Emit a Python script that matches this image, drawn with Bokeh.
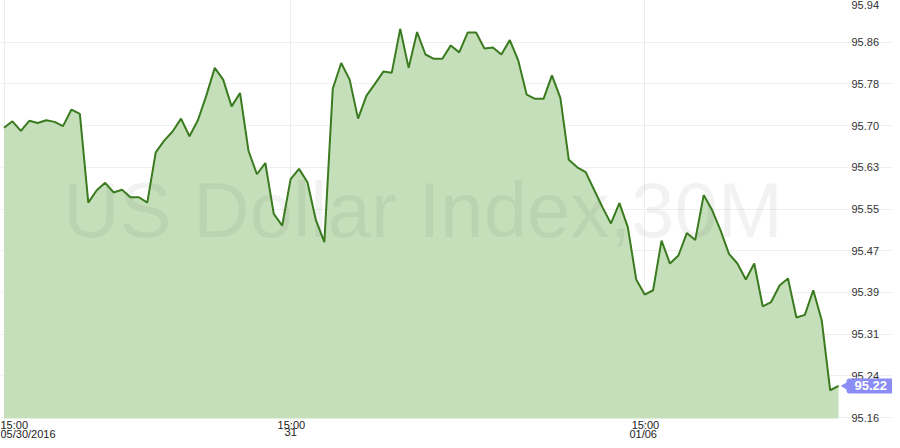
import math
from bokeh.plotting import figure
from bokeh.models import Range1d, FixedTicker, Label, Grid
from bokeh.core.properties import value
from bokeh.embed import file_html
from bokeh.resources import INLINE

# ---- data (30-minute closes) ----
closes = [
    95.700, 95.712, 95.694, 95.713, 95.709, 95.714, 95.711, 95.703, 95.734, 95.726,
    95.560, 95.583, 95.597, 95.579, 95.584, 95.570, 95.570, 95.560, 95.654, 95.676,
    95.693, 95.717, 95.684, 95.714, 95.760, 95.812, 95.790, 95.740, 95.765, 95.657,
    95.613, 95.634, 95.539, 95.517, 95.604, 95.623, 95.598, 95.527, 95.486, 95.773,
    95.821, 95.790, 95.717, 95.760, 95.782, 95.805, 95.803, 95.885, 95.812, 95.879,
    95.837, 95.829, 95.829, 95.854, 95.841, 95.878, 95.878, 95.848, 95.850, 95.837,
    95.864, 95.826, 95.762, 95.754, 95.754, 95.798, 95.756, 95.640, 95.626, 95.617,
    95.584, 95.551, 95.521, 95.559, 95.514, 95.416, 95.388, 95.396, 95.489, 95.446,
    95.461, 95.503, 95.490, 95.574, 95.546, 95.508, 95.464, 95.446, 95.416, 95.446,
    95.366, 95.374, 95.405, 95.418, 95.345, 95.350, 95.396, 95.340, 95.209, 95.217,
]
bar_index = list(range(len(closes)))

x_tick_index = [0, 34, 76]
x_tick_time = ["15:00", "15:00", "15:00"]
x_tick_date = ["05/30/2016", "31", "01/06"]

y_ticks = [95.158, 95.236, 95.314, 95.392, 95.470, 95.548,
           95.626, 95.704, 95.782, 95.860, 95.938]
y_tick_labels = ["95.16", "95.24", "95.31", "95.39", "95.47", "95.55",
                 "95.63", "95.70", "95.78", "95.86", "95.94"]

watermark = "US Dollar Index,30M"
last_price_label = "95.22"

# ---- layout: pixel <-> data mapping ----
W, H = 892, 440
PX_PER_BAR = 8.43
PX_PER_UNIT = 417 / 0.78
Y_TOP = y_ticks[-1]
X0 = -3.5 / PX_PER_BAR


def xd(px):
    return X0 + px / PX_PER_BAR


def yd(py):
    return Y_TOP - py / PX_PER_UNIT


plot_left, plot_right = xd(0), xd(845)
plot_bottom, plot_top = yd(418), Y_TOP
FONT = "Liberation Sans"
LABEL_BG = "#8b8cf4"

p = figure(width=W, height=H,
           x_range=Range1d(xd(0), xd(W)), y_range=Range1d(yd(H), Y_TOP),
           x_axis_location=None, y_axis_location=None,
           output_backend="svg", toolbar_location=None,
           min_border=0)
p.outline_line_color = None
p.background_fill_color = "white"
p.border_fill_color = "white"
p.grid.visible = False

p.add_layout(Grid(dimension=0, ticker=FixedTicker(ticks=x_tick_index),
                  bounds=(plot_bottom, plot_top), grid_line_color="#ececec"))
p.add_layout(Grid(dimension=1, ticker=FixedTicker(ticks=y_ticks),
                  bounds=(plot_left, plot_right), grid_line_color="#efefef"))

# area fill
p.varea(x=bar_index, y1=plot_bottom, y2=closes, fill_color="#c6dfbb", fill_alpha=1.0)

# watermark
p.text(x=[(plot_left + plot_right) / 2], y=[(plot_bottom + plot_top) / 2],
       text=[watermark], text_align="center", text_baseline="middle",
       text_font=value(FONT), text_font_size="78px",
       text_color="black", text_alpha=0.05)

# line
p.line(bar_index, closes, line_color="#3a7b1f", line_width=2)

# y tick labels (right side); the topmost one is kept inside the picture
p.text(x=[xd(851)] * (len(y_ticks) - 1), y=y_ticks[:-1], text=y_tick_labels[:-1],
       text_align="left", text_baseline="middle", text_font=value(FONT),
       text_font_size="11px", text_color="#333333")
p.text(x=[xd(851)], y=y_ticks[-1:], text=y_tick_labels[-1:],
       text_align="left", text_baseline="top", text_font=value(FONT),
       text_font_size="11px", text_color="#333333")

# x tick labels
first = [x_tick_index[0] == xi for xi in x_tick_index]
lab_x = [xd(0) if f else xi for f, xi in zip(first, x_tick_index)]
p.text(x=lab_x, y=[yd(418)] * len(lab_x), text=x_tick_time,
       text_align="left", text_baseline="top", text_font=value(FONT),
       text_font_size="11px", text_color="#222222",
       x_offset=[0 if f else -13 for f in first])
p.text(x=lab_x, y=[yd(427.5)] * len(lab_x), text=x_tick_date,
       text_align="left", text_baseline="top", text_font=value(FONT),
       text_font_size="11px", text_color="#222222",
       x_offset=[0 if f else -(len(d) * 6.1) / 2 for f, d in zip(first, x_tick_date)])

# last price marker
p.scatter(x=[xd(844.5)], y=[closes[-1]], marker="triangle", size=6,
          angle=math.pi / 2, fill_color=LABEL_BG, line_color=LABEL_BG)
p.add_layout(Label(x=xd(846), y=closes[-1], text=last_price_label,
                   text_align="left", text_baseline="middle",
                   text_font=FONT, text_font_size="13px", text_font_style="bold",
                   text_color="white", background_fill_color=LABEL_BG,
                   padding=dict(left=8, right=8, top=3, bottom=3),
                   border_radius=3))

open("out.html", "w").write(file_html(p, INLINE))
